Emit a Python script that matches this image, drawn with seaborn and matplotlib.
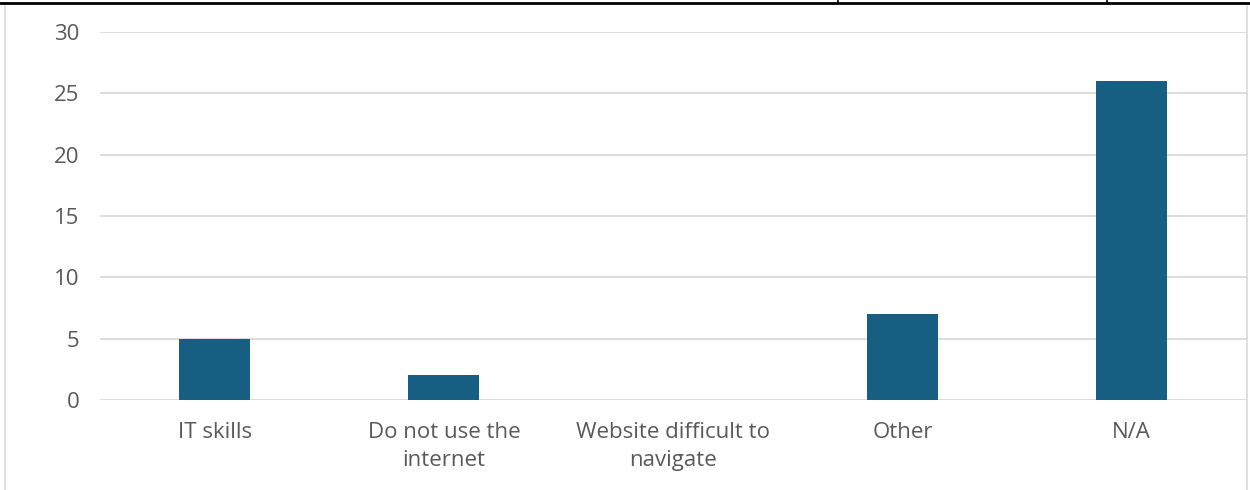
import matplotlib
matplotlib.use("Agg")
import matplotlib.pyplot as plt
from matplotlib.lines import Line2D
import pandas as pd
import seaborn as sns

# data
categories = ["IT skills", "Do not use the\ninternet", "Website difficult to\nnavigate", "Other", "N/A"]
counts = [5, 2, 0, 7, 26]
y_ticks = [0, 5, 10, 15, 20, 25, 30]

sns.set_theme(style="white")
plt.rcParams['font.family'] = ['Open Sans', 'DejaVu Sans']

df = pd.DataFrame({'reason': categories, 'count': counts})

fig = plt.figure(figsize=(12.5, 4.9), dpi=100)
ax = fig.add_axes([0.08, 0.1837, 0.917, 0.751])
sns.barplot(data=df, x='reason', y='count', color='#175F82', width=0.31,
            saturation=1, linewidth=0, ax=ax, zorder=3)

ax.set_ylim(0, 30)
ax.set_yticks(y_ticks)
ax.yaxis.grid(True, color='#D9D9D9', linewidth=1.3, zorder=0)
ax.set_axisbelow(True)
for s in ax.spines.values():
    s.set_visible(False)
ax.tick_params(axis='both', length=0, labelsize=16, labelcolor='#595959')
ax.tick_params(axis='y', pad=15)
ax.tick_params(axis='x', pad=16)
for lbl in ax.get_xticklabels():
    lbl.set_linespacing(1.45)
ax.set_xlabel('')
ax.set_ylabel('')

# chart border and table lines around it
fig.add_artist(Line2D([0, 1], [1 - 3/490, 1 - 3/490], color='black', linewidth=2, transform=fig.transFigure))
for xp in [838, 1107]:
    fig.add_artist(Line2D([xp/1250, xp/1250], [1 - 3/490, 1], color='black', linewidth=1.2, transform=fig.transFigure))
fig.add_artist(Line2D([5/1250, 5/1250], [0, 1 - 6/490], color='#D9D9D9', linewidth=1.2, transform=fig.transFigure))
fig.add_artist(Line2D([1247/1250, 1247/1250], [0, 1 - 6/490], color='#D9D9D9', linewidth=1.2, transform=fig.transFigure))

fig.savefig('out.png', dpi=100)
